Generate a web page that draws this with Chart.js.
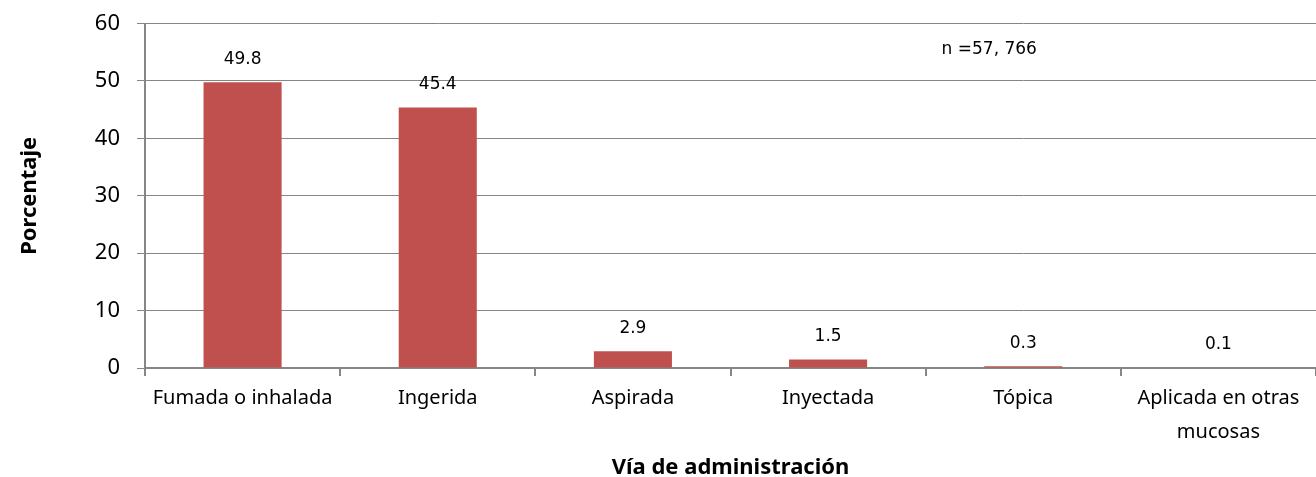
<!DOCTYPE html>
<html>
<head>
<meta charset="utf-8">
<script src="https://cdn.jsdelivr.net/npm/chart.js@4"></script>
<style>
  html, body { margin: 0; padding: 0; background: #fff; }
  #wrap { width: 1316px; height: 477px; }
</style>
</head>
<body>
<div id="wrap"><canvas id="chart"></canvas></div>
<script>
const categories = [
    'Fumada o inhalada',
    'Ingerida',
    'Aspirada',
    'Inyectada',
    'Tópica',
    ['Aplicada en otras', 'mucosas']
];
const values = [49.8, 45.4, 2.9, 1.5, 0.3, 0.1];
const yTicks = [0, 10, 20, 30, 40, 50, 60];
const note = 'n =57, 766';

const gridGray = '#868686';
const barRed = '#C0504D';

// value labels above bars + sample size note
const labelPlugin = {
    id: 'labels',
    afterDatasetsDraw(chart) {
        const c = chart.ctx;
        const meta = chart.getDatasetMeta(0);
        c.save();
        c.font = '17px "DejaVu Sans"';
        c.fillStyle = '#000';
        c.textAlign = 'center';
        c.textBaseline = 'middle';
        meta.data.forEach((bar, i) => {
            c.fillText(values[i].toFixed(1), bar.x, bar.y - 23);
        });
        const x = chart.scales.x.getPixelForValue(4) - 34;
        const y = chart.scales.y.getPixelForValue(55.5);
        c.font = '17px "DejaVu Sans"';
        c.fillText(note, x, y);
        c.restore();
    }
};

const ctx = document.getElementById('chart').getContext('2d');
new Chart(ctx, {
    type: 'bar',
    data: {
        labels: categories,
        datasets: [{
            data: values,
            backgroundColor: barRed,
            borderWidth: 0,
            categoryPercentage: 1,
            barPercentage: 0.4
        }]
    },
    options: {
        responsive: true,
        maintainAspectRatio: false,
        animation: false,
        layout: { padding: { top: 22, right: 0, bottom: 0, left: 0 } },
        plugins: {
            legend: { display: false },
            tooltip: { enabled: false }
        },
        scales: {
            y: {
                min: 0,
                max: 60,
                afterFit(scale) { scale.width = 145; },
                afterBuildTicks(scale) { scale.ticks = yTicks.map(v => ({ value: v })); },
                ticks: {
                    color: '#000',
                    padding: 17,
                    font: { family: '"Noto Sans"', size: 22, lineHeight: 0.6 }
                },
                grid: { color: gridGray, lineWidth: 1, tickLength: 8 },
                border: { color: gridGray, width: 2 },
                title: {
                    display: true,
                    text: 'Porcentaje',
                    color: '#000',
                    font: { family: '"Noto Sans"', size: 22, weight: 'bold', lineHeight: 1.2 },
                    padding: { top: 17, bottom: 0 }
                }
            },
            x: {
                afterFit(scale) { scale.height = 109; },
                ticks: {
                    color: '#000',
                    padding: 5,
                    maxRotation: 0,
                    autoSkip: false,
                    font: { family: '"Noto Sans"', size: 20, lineHeight: 1.7 }
                },
                grid: { drawOnChartArea: false, color: gridGray, tickLength: 8, lineWidth: 2 },
                border: { color: gridGray, width: 2 },
                title: {
                    display: true,
                    text: 'Vía de administración',
                    color: '#000',
                    font: { family: '"Noto Sans"', size: 22, weight: 'bold', lineHeight: 0.8 },
                    padding: { top: 0, bottom: 0 }
                }
            }
        }
    },
    plugins: [labelPlugin]
});
</script>
</body>
</html>
